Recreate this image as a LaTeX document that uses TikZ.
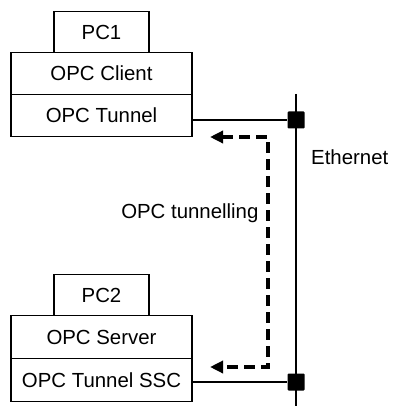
\documentclass[tikz,border=0pt]{standalone}
\usepackage{fontspec}
\setmainfont{Liberation Sans}
\usetikzlibrary{positioning,arrows.meta}

\begin{document}
\begin{tikzpicture}[x=1pt, y=-1pt, font=\fontsize{20.4}{24}\selectfont,
    layer/.style={draw, line width=1.2pt, outer sep=0pt, minimum width=181pt, minimum height=42pt, inner sep=0pt},
    pcbox/.style={draw, line width=1.2pt, outer sep=0pt, minimum width=95pt, minimum height=41pt, inner sep=0pt},
    port/.style={fill=black, minimum size=17pt, inner sep=0pt, rounded corners=1pt},
    tunnelling/.style={line width=3.5pt, dash pattern=on 11pt off 6pt, {Triangle[length=13pt,width=12pt]}-{Triangle[length=13pt,width=12pt]}}]

\useasboundingbox (0,0) rectangle (392,406);

% PC1
\node[layer] (client) at (101.5,73.5) {OPC Client};
\node[pcbox, above=0pt of client] (pc1) {PC1};
\node[layer, below=0pt of client] (tunnel) {OPC Tunnel};

% PC2
\node[layer, minimum height=43pt] (server) at (101.5,337) {OPC Server};
\node[pcbox, above=0pt of server] (pc2) {PC2};
\node[layer, minimum height=43pt, below=0pt of server] (ssc) {OPC Tunnel SSC};

% ethernet
\coordinate (ethtop) at (296,94);
\coordinate (ethbot) at (296,406);
\draw[line width=2pt] (ethtop) -- (ethbot);
\node[port] (sw1) at (296,120) {};
\node[port] (sw2) at (296,382) {};
\draw[line width=1.2pt] (tunnel.east |- sw1) -- (sw1);
\draw[line width=1.2pt] (ssc.east |- sw2) -- (sw2);
\node[anchor=west, inner xsep=0pt] (eth) at (311,157) {Ethernet};

% tunnelling
\coordinate (tip1) at (210,137);
\coordinate (tip2) at (210,367);
\draw[tunnelling] (tip1) -- (268,137) -- (268,367) -- (tip2);
\node[anchor=east] (tlabel) at (262,213) {OPC tunnelling};
\end{tikzpicture}
\end{document}
